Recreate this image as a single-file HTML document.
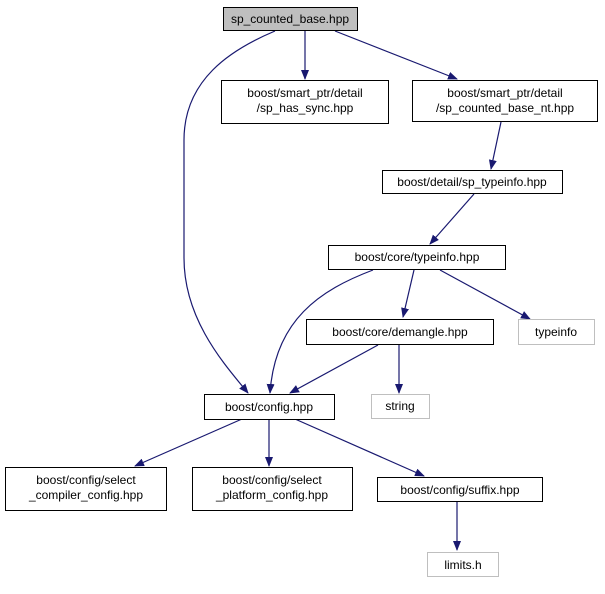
<!DOCTYPE html>
<html><head><meta charset="utf-8"><style>
html,body{margin:0;padding:0;background:#fff;}
svg text{font-family:"Liberation Sans",sans-serif;font-size:12px;fill:#000;text-anchor:middle;}
</style></head><body>
<svg width="605" height="589" viewBox="0 0 605 589" xmlns="http://www.w3.org/2000/svg">
<defs><marker id="a" markerWidth="10" markerHeight="10" refX="9" refY="5" orient="auto" markerUnits="userSpaceOnUse"><path d="M0,1 L10,5 L0,9 Z" fill="#191970"/></marker></defs>
<g fill="none" stroke="#191970" stroke-width="1.2" marker-end="url(#a)">
<path d="M275,31 C230,50 184,80 184,140 L184,258 C184,320 225,365 248,393"/>
<path d="M305,31 L305,79"/>
<path d="M335,31 L457,79"/>
<path d="M501,122 L491,169"/>
<path d="M474,194 L430,244"/>
<path d="M373,270 C320,290 275,320 270,393"/>
<path d="M414,270 L403,317"/>
<path d="M440,270 L530,319"/>
<path d="M378,345 L290,393"/>
<path d="M399,345 L399,393"/>
<path d="M242,419 L135,466"/>
<path d="M269,419 L269,466"/>
<path d="M295,419 L424,476"/>
<path d="M457,501 L457,550"/>
</g>
<g stroke-width="1">
<rect x="223.5" y="7.5" width="134" height="23" fill="#bfbfbf" stroke="#000"/>
<rect x="221.5" y="80.5" width="167" height="43" fill="#fff" stroke="#000"/>
<rect x="412.5" y="80.5" width="185" height="41" fill="#fff" stroke="#000"/>
<rect x="382.5" y="170.5" width="180" height="23" fill="#fff" stroke="#000"/>
<rect x="328.5" y="245.5" width="177" height="24" fill="#fff" stroke="#000"/>
<rect x="306.5" y="319.5" width="187" height="25" fill="#fff" stroke="#000"/>
<rect x="518.5" y="319.5" width="76" height="25" fill="#fff" stroke="#bfbfbf"/>
<rect x="204.5" y="394.5" width="130" height="25" fill="#fff" stroke="#000"/>
<rect x="371.5" y="394.5" width="58" height="24" fill="#fff" stroke="#bfbfbf"/>
<rect x="5.5" y="467.5" width="161" height="43" fill="#fff" stroke="#000"/>
<rect x="192.5" y="467.5" width="160" height="43" fill="#fff" stroke="#000"/>
<rect x="377.5" y="477.5" width="165" height="24" fill="#fff" stroke="#000"/>
<rect x="427.5" y="552.5" width="71" height="24" fill="#fff" stroke="#bfbfbf"/>
</g>
<text x="290" y="23">sp_counted_base.hpp</text>
<text x="305" y="97">boost/smart_ptr/detail</text>
<text x="305" y="112">/sp_has_sync.hpp</text>
<text x="505" y="97">boost/smart_ptr/detail</text>
<text x="505" y="112">/sp_counted_base_nt.hpp</text>
<text x="472" y="186">boost/detail/sp_typeinfo.hpp</text>
<text x="417" y="261">boost/core/typeinfo.hpp</text>
<text x="400" y="336">boost/core/demangle.hpp</text>
<text x="556" y="336">typeinfo</text>
<text x="269" y="411">boost/config.hpp</text>
<text x="400" y="410">string</text>
<text x="86" y="484">boost/config/select</text>
<text x="86" y="499">_compiler_config.hpp</text>
<text x="272" y="484">boost/config/select</text>
<text x="272" y="499">_platform_config.hpp</text>
<text x="460" y="494">boost/config/suffix.hpp</text>
<text x="463" y="569">limits.h</text>
</svg>
</body></html>
